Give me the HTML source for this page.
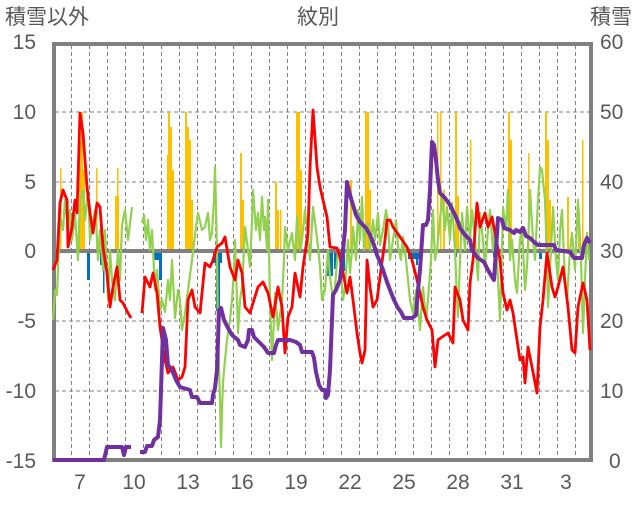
<!DOCTYPE html>
<html><head><meta charset="utf-8"><style>
body{margin:0;background:#fff}
svg text{font-family:"Liberation Sans","Noto Sans CJK JP",sans-serif;fill:#595959;font-size:21px}
</style></head><body>
<svg width="636" height="501" viewBox="0 0 636 501" xmlns="http://www.w3.org/2000/svg">
<g stroke="#808080" stroke-width="1" stroke-dasharray="4,3">
<line x1="55" y1="112" x2="590" y2="112"/><line x1="55" y1="182" x2="590" y2="182"/>
<line x1="55" y1="321" x2="590" y2="321"/><line x1="55" y1="391" x2="590" y2="391"/>
<line x1="71.5" y1="45" x2="71.5" y2="459"/><line x1="89.5" y1="45" x2="89.5" y2="459"/><line x1="107.5" y1="45" x2="107.5" y2="459"/><line x1="125.5" y1="45" x2="125.5" y2="459"/><line x1="143.5" y1="45" x2="143.5" y2="459"/><line x1="161.5" y1="45" x2="161.5" y2="459"/><line x1="179.5" y1="45" x2="179.5" y2="459"/><line x1="197.5" y1="45" x2="197.5" y2="459"/><line x1="215.5" y1="45" x2="215.5" y2="459"/><line x1="233.5" y1="45" x2="233.5" y2="459"/><line x1="251.5" y1="45" x2="251.5" y2="459"/><line x1="269.5" y1="45" x2="269.5" y2="459"/><line x1="287.5" y1="45" x2="287.5" y2="459"/><line x1="305.5" y1="45" x2="305.5" y2="459"/><line x1="323.5" y1="45" x2="323.5" y2="459"/><line x1="341.5" y1="45" x2="341.5" y2="459"/><line x1="359.5" y1="45" x2="359.5" y2="459"/><line x1="377.5" y1="45" x2="377.5" y2="459"/><line x1="395.5" y1="45" x2="395.5" y2="459"/><line x1="413.5" y1="45" x2="413.5" y2="459"/><line x1="431.5" y1="45" x2="431.5" y2="459"/><line x1="449.5" y1="45" x2="449.5" y2="459"/><line x1="467.5" y1="45" x2="467.5" y2="459"/><line x1="485.5" y1="45" x2="485.5" y2="459"/><line x1="503.5" y1="45" x2="503.5" y2="459"/><line x1="521.5" y1="45" x2="521.5" y2="459"/><line x1="539.5" y1="45" x2="539.5" y2="459"/><line x1="557.5" y1="45" x2="557.5" y2="459"/><line x1="575.5" y1="45" x2="575.5" y2="459"/>
</g>
<rect x="54" y="44" width="537" height="416" fill="none" stroke="#808080" stroke-width="4"/>
<g fill="#ffc000">
<rect x="60" y="168" width="1.5" height="83"/><rect x="79" y="141" width="2" height="110"/><rect x="81" y="112" width="2" height="139"/><rect x="83" y="170" width="2" height="81"/>
<rect x="96" y="168" width="1.5" height="83"/><rect x="115" y="196" width="4" height="55"/><rect x="117" y="168" width="1.5" height="83"/>
<rect x="167" y="155" width="2" height="96"/><rect x="168" y="112" width="2" height="139"/><rect x="170" y="127" width="2" height="124"/><rect x="172" y="170" width="2" height="81"/>
<rect x="185" y="112" width="2" height="139"/><rect x="187" y="127" width="2" height="124"/><rect x="189" y="140" width="2" height="111"/><rect x="191" y="200" width="2" height="51"/>
<rect x="240" y="153" width="2" height="98"/><rect x="242" y="200" width="2" height="51"/>
<rect x="275" y="182" width="2" height="69"/><rect x="277" y="210" width="2" height="41"/><rect x="280" y="210" width="1.5" height="41"/>
<rect x="296" y="112" width="2" height="139"/><rect x="298" y="112" width="2" height="139"/><rect x="300" y="170" width="2" height="81"/>
<rect x="350" y="180" width="2" height="71"/><rect x="365" y="112" width="4" height="139"/><rect x="369" y="190" width="2" height="61"/>
<rect x="437" y="112" width="1.5" height="139"/><rect x="440" y="112" width="1.5" height="139"/><rect x="443" y="190" width="2" height="61"/>
<rect x="455" y="112" width="2" height="139"/><rect x="457" y="196" width="2" height="55"/><rect x="470" y="140" width="1.5" height="111"/>
<rect x="508" y="112" width="2" height="139"/><rect x="510" y="140" width="2" height="111"/><rect x="528" y="153" width="1.5" height="98"/>
<rect x="545" y="112" width="2" height="139"/><rect x="547" y="140" width="2" height="111"/><rect x="549" y="200" width="2" height="51"/>
<rect x="567" y="197" width="2" height="54"/><rect x="582" y="140" width="1.5" height="111"/><rect x="578" y="210" width="2" height="41"/>
</g>
<g fill="#0070c0">
<rect x="87" y="251" width="3" height="29"/><rect x="100" y="251" width="3" height="14"/><rect x="103" y="251" width="1.5" height="42"/>
<rect x="153" y="251" width="7" height="9"/><rect x="159" y="251" width="3" height="29"/>
<rect x="213" y="251" width="9" height="12"/><rect x="216" y="251" width="4" height="60"/>
<rect x="327" y="251" width="6" height="25"/><rect x="334" y="251" width="3" height="18"/><rect x="340" y="251" width="5" height="20"/>
<rect x="408" y="251" width="12" height="8"/><rect x="416" y="251" width="2" height="14"/>
<rect x="455" y="251" width="2" height="6"/><rect x="493" y="251" width="2" height="6"/><rect x="539" y="251" width="3" height="8"/>
</g>
<line x1="53" y1="251" x2="592" y2="251" stroke="#808080" stroke-width="4"/>
<polyline fill="none" stroke="#92d050" stroke-width="2.2" stroke-linejoin="round" points="53,320 55,290 57,295 60,215 63,230 65,200 68,230 70,210 72,240 75,215 78,260 80,200 83,190 85,220 88,190 90,240 92,230 95,210 96,220 98,260 100,230 103,270 105,230 108,300 110,250 112,280 115,300 118,250 120,280 122,225 125,210 128,240 132,207"/>
<polyline fill="none" stroke="#92d050" stroke-width="2.2" stroke-linejoin="round" points="142,223 144,215 146,240 148,220 150,250 152,230 155,290 157,270 160,310 162,300 165,312 168,280 170,300 172,260 175,318 178,290 180,300 182,330 185,313 188,290 192,260 195,235 198,213 202,230 205,227 208,213 210,240 212,233 214,200 215,167 217,250 218,333 220,400 221,447 222,410 223,383 225,360 227,340 230,320 232,300 234,270 235,240 237,300 238,333 240,300 242,287 244,250 245,227 248,250 250,267 252,220 253,190 256,230 258,213 260,240 262,197 264,230 265,217 267,250 268,200 270,300 272,360 274,320 275,293 278,330 282,300 284,260 285,227 288,250 292,233 295,260 297,217 300,250 302,240 305,210 307,227 310,260 313,207 316,230 318,247 320,267 322,300 325,290 328,250 330,277 333,300 335,287 338,250 340,260 343,300 345,287 348,240 350,273 352,250 353,227 356,260 358,210 360,240 362,197 364,250 365,233 368,223 370,250 373,220 375,240 378,213 380,245 383,230 386,210 388,223 390,260 393,240 396,220 398,247 401,260 403,237 406,260 408,280 410,300 413,313 416,290 418,307 420,330 423,287 426,320 428,300 431,260 433,210 435,260 437,250 440,220 442,197 445,230 447,207 450,240 452,203 455,250 457,300 458,317 460,260 462,213 465,250 467,207 470,240 472,210 475,240 478,280 480,213 483,240 485,267 488,230 490,210 493,250 495,227 498,280 500,320 502,250 503,207 506,230 508,190 510,260 512,240 515,280 517,293 520,240 522,227 525,290 527,267 529,220 530,190 533,240 535,260 538,200 540,167 542,170 545,200 547,260 548,307 551,250 553,207 556,260 558,280 560,230 562,210 565,280 567,300 570,250 572,233 575,270 578,200 581,260 583,333 585,280 587,233 589,260"/>
<polyline fill="none" stroke="#ff0000" stroke-width="2.8" stroke-linejoin="round" points="53,270 57,260 60,203 63,190 67,200 68,247 72,227 75,200 77,213 80,113 83,133 87,187 90,213 93,233 97,203 100,207 103,247 107,273 110,307 113,287 117,267 120,300 123,303 128,313 131,318"/>
<polyline fill="none" stroke="#ff0000" stroke-width="2.8" stroke-linejoin="round" points="142,313 145,277 150,287 153,273 157,293 160,327 165,360 168,373 173,367 178,380 182,377 185,367 188,300 192,290 195,307 200,313 205,263 210,267 213,260 217,247 222,243 225,237 230,267 235,280 238,260 242,273 245,307 250,313 253,303 258,287 263,282 268,293 273,317 278,287 282,307 285,353 288,317 292,307 295,273 300,297 303,267 308,233 310,167 313,110 317,167 320,187 323,200 327,217 330,247 337,248 340,257 343,273 347,293 350,277 353,300 357,333 360,353 362,363 365,350 367,260 370,287 373,307 377,300 380,277 385,240 387,220 390,220 393,227 400,237 407,247 412,260 417,280 420,293 423,307 427,320 432,330 435,367 438,340 442,337 448,333 453,343 455,287 460,300 463,320 468,330 470,283 473,260 477,203 480,227 485,213 488,227 492,217 495,233 500,260 503,293 507,310 510,300 513,313 517,340 520,360 523,357 525,383 528,347 532,367 537,393 540,327 543,300 547,253 552,287 555,297 558,287 563,267 568,307 572,350 575,353 578,307 583,283 587,300 590,350"/>
<polyline fill="none" stroke="#7030a0" stroke-width="4" stroke-linejoin="round" points="53,460 104,460 107,447 122,447 124,455 126,447 131,447"/>
<polyline fill="none" stroke="#7030a0" stroke-width="4" stroke-linejoin="round" points="140,452 145,452 147,446 152,446 154,440 158,437 160,420 162,360 163,328 166,340 168,365 172,370 176,380 180,387 190,390 192,397 197,397 200,403 212,403 213,395 215,388 217,370 219,310 221,308 224,320 228,328 232,335 238,340 240,345 245,347 248,340 249,330 252,330 254,337 257,340 260,343 264,347 268,353 274,353 276,345 278,340 290,340 296,342 300,345 302,352 312,352 314,358 316,372 319,385 322,390 325,390 326,398 328,395 330,370 333,295 336,290 340,280 342,260 345,230 347,182 350,195 353,205 356,215 360,222 366,228 370,235 374,245 377,255 380,262 383,270 387,282 390,290 394,300 398,308 401,312 404,318 412,318 416,315 418,290 420,270 423,225 426,225 428,220 430,190 432,142 434,145 436,160 438,180 440,193 445,198 450,205 455,215 458,222 460,228 465,235 470,240 472,250 478,258 484,262 488,270 492,277 494,280 496,250 498,218 502,220 504,228 510,230 514,233 516,230 520,232 523,228 526,236 530,238 534,242 538,245 554,245 556,250 570,252 574,258 582,258 584,245 587,238 590,243"/>
<text x="5" y="24">積雪以外</text>
<text x="318" y="24" text-anchor="middle">紋別</text>
<text x="632" y="24" text-anchor="end">積雪</text>
<g text-anchor="end">
<text x="36" y="49">15</text><text x="36" y="119">10</text><text x="36" y="189">5</text><text x="36" y="258">0</text><text x="36" y="328">-5</text><text x="36" y="398">-10</text><text x="36" y="468">-15</text>
</g>
<g>
<text x="600" y="49">60</text><text x="600" y="119">50</text><text x="600" y="189">40</text><text x="600" y="258">30</text><text x="600" y="328">20</text><text x="600" y="398">10</text><text x="609" y="468">0</text>
</g>
<g text-anchor="middle">
<text x="80" y="489">7</text><text x="134" y="489">10</text><text x="188" y="489">13</text><text x="242" y="489">16</text><text x="296" y="489">19</text><text x="350" y="489">22</text><text x="404" y="489">25</text><text x="458" y="489">28</text><text x="512" y="489">31</text><text x="566" y="489">3</text>
</g>
</svg>
</body></html>
